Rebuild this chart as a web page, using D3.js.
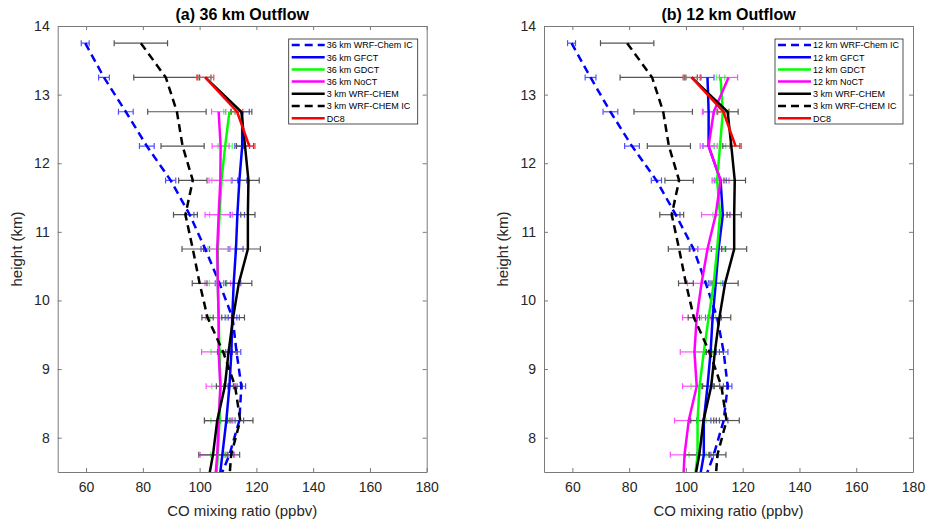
<!DOCTYPE html>
<html>
<head>
<meta charset="utf-8">
<script src="https://cdn.jsdelivr.net/npm/d3@7"></script>
<style>
  body { margin: 0; background: #fff; }
  text { font-family: "Liberation Sans", Arial, sans-serif; }
</style>
</head>
<body>
<svg id="chart" width="927" height="527"></svg>
<script>
// flight levels (km); the last one is below the axis and only makes the lines run to the edge
const heights = [13.75, 13.25, 12.75, 12.25, 11.75, 11.25, 10.75, 10.25, 9.75, 9.25, 8.75, 8.25, 7.75, 7.25];
const xTicks = [60, 80, 100, 120, 140, 160, 180];
const yTicks = [8, 9, 10, 11, 12, 13, 14];
const titles = ["(a) 36 km Outflow", "(b) 12 km Outflow"];

// shared series (same in both panels)
const wrf3 = [null, 102, 114.7, 116, 117.2, 117, 117, 113.8, 111.8, 110.2, 108.9, 106.2, 104.7, 102.5];
const wrf3Err = [0, 2, 3.7, 3, 3.8, 2.5, 4.4, 4.6, 4, 3, 3, 4.5, 5, 5];
const wrf3IC = [79.3, 88.1, 92, 94, 97.6, 95, 97.6, 100, 102.8, 108.3, 112.5, 114.3, 111.1, 110.2];
const wrf3ICErr = [9.4, 11.3, 10.3, 7.6, 5, 4.2, 3.8, 2.6, 2, 2, 2.5, 4.5, 3, 3];
const dc8 = [null, 102, 113.2, 117.5, null, null, null, null, null, null, null, null, null, null];
const dc8Err = [0, 3, 2, 2, 0, 0, 0, 0, 0, 0, 0, 0, 0, 0];

// panel (a) 36 km
const aIC = [59.7, 66.3, 74, 81.4, 89.8, 96.5, 102, 107, 111.6, 113, 114.7, 114, 110.5, 105.5];
const aICErr = [1.4, 1.9, 2.6, 2.6, 1.8, 1.5, 1.5, 1.5, 1.5, 1.5, 1.5, 1.5, 1.5, 1.5];
const aGFCT = [null, null, 115, 115, 114, 113.3, 112.8, 112, 111.5, 111.2, 110.5, 109.4, 108, 106.6];
const aGFCTErr = [0, 0, 2.5, 2.6, 2.6, 2.5, 2.5, 2.5, 2.5, 2, 2, 2, 2, 2];
const aGDCT = [null, null, 110.5, 109, 107.7, 107, 106.4, 106.4, 106.7, 107, 107.3, 107, 106.4, 105.6];
const aGDCTErr = [0, 0, 2, 2.5, 3.4, 3.5, 3.5, 3, 3, 3, 3, 3, 2.5, 2.5];
const aNoCT = [null, null, 106.7, 107.4, 107.3, 106.7, 106.2, 106.4, 106.7, 106.7, 107.3, 106.7, 106.2, 105.2];
const aNoCTErr = [0, 0, 2.5, 3, 4, 4.8, 4.5, 4.5, 4.5, 6, 5, 5, 6, 6];

// panel (b) 12 km
const bIC = [59.7, 66.4, 73.4, 81, 89.6, 96.4, 102.7, 107, 111, 113.3, 114.7, 113.3, 109.8, 105.4];
const bICErr = [1.4, 1.9, 2.6, 2.6, 1.8, 1.5, 1.5, 1.5, 1.5, 1.5, 1.5, 1.5, 1.5, 1.5];
const bGFCT = [null, 107.6, 108, 108, 112.2, 113, 111.5, 110.5, 109.4, 108.7, 107.6, 106.3, 106.3, 104.2];
const bGFCTErr = [0, 2.3, 2, 2, 2, 2.5, 2.5, 2.5, 2.5, 2, 2, 2.5, 2.5, 2];
const bGDCT = [null, 112.2, 113, 112, 111, 112, 111, 109.8, 108, 106.3, 104.8, 104.1, 104.1, 102.7];
const bGDCTErr = [0, 1.5, 2, 2, 1.5, 2.5, 2.5, 2.5, 2.5, 3, 3, 3, 3, 3];
const bNoCT = [null, 115, 109.8, 108, 112.2, 110.5, 107.6, 105.5, 103.8, 103, 103.8, 101, 99.5, 98.9];
const bNoCTErr = [0, 3.2, 4, 3, 3, 5, 5, 5, 5, 5, 5, 5, 5, 5];

const panels = [
  { left: 57.7, res: "36 km", ic: aIC, icErr: aICErr, gf: aGFCT, gfErr: aGFCTErr, gd: aGDCT, gdErr: aGDCTErr, no: aNoCT, noErr: aNoCTErr },
  { left: 544, res: "12 km", ic: bIC, icErr: bICErr, gf: bGFCT, gfErr: bGFCTErr, gd: bGDCT, gdErr: bGDCTErr, no: bNoCT, noErr: bNoCTErr }
];

const W = 369, plotTop = 26, plotBottom = 472;
const svg = d3.select("#chart");

panels.forEach((p, pi) => {
  const x = d3.scaleLinear().domain([50, 180]).range([p.left, p.left + W]);
  const y = d3.scaleLinear().domain([7.5, 14]).range([plotBottom, plotTop]);

  const series = [
    { name: p.res + " WRF-Chem IC", v: p.ic, e: p.icErr, color: "#0000ff", bar: "#5050ff", dash: "8,5" },
    { name: p.res + " GFCT", v: p.gf, e: p.gfErr, color: "#0000ff", bar: "#5050ff", dash: null },
    { name: p.res + " GDCT", v: p.gd, e: p.gdErr, color: "#00ff00", bar: "#50ff50", dash: null },
    { name: p.res + " NoCT", v: p.no, e: p.noErr, color: "#ff00ff", bar: "#ff50ff", dash: null },
    { name: "3 km WRF-CHEM", v: wrf3, e: wrf3Err, color: "#000000", bar: "#555555", dash: null },
    { name: "3 km WRF-CHEM IC", v: wrf3IC, e: wrf3ICErr, color: "#000000", bar: "#555555", dash: "8,5" },
    { name: "DC8", v: dc8, e: dc8Err, color: "#ff0000", bar: "#ff4040", dash: null }
  ];

  const clipId = "clip" + pi;
  svg.append("clipPath").attr("id", clipId)
    .append("rect").attr("x", p.left).attr("y", plotTop).attr("width", W).attr("height", plotBottom - plotTop);

  const plot = svg.append("g").attr("clip-path", `url(#${clipId})`);

  // error bars
  series.forEach(s => {
    const pts = heights.map((h, i) => ({ h, v: s.v[i], e: s.e[i] })).filter(d => d.v != null && d.e > 0);
    const g = plot.append("g").attr("stroke", s.bar).attr("stroke-width", 1.2).attr("fill", "none");
    pts.forEach(d => {
      const yy = y(d.h), x0 = x(d.v - d.e), x1 = x(d.v + d.e);
      g.append("line").attr("x1", x0).attr("x2", x1).attr("y1", yy).attr("y2", yy);
      g.append("line").attr("x1", x0).attr("x2", x0).attr("y1", yy - 3).attr("y2", yy + 3);
      g.append("line").attr("x1", x1).attr("x2", x1).attr("y1", yy - 3).attr("y2", yy + 3);
    });
  });

  // profile lines
  const line = d3.line()
    .defined(d => d.v != null)
    .x(d => x(d.v))
    .y(d => y(d.h));

  series.forEach(s => {
    const pts = heights.map((h, i) => ({ h, v: s.v[i] }));
    plot.append("path")
      .attr("d", line(pts))
      .attr("fill", "none")
      .attr("stroke", s.color)
      .attr("stroke-width", 2.5)
      .attr("stroke-dasharray", s.dash);
  });

  // axes, ticks pointing inward on all four sides
  const axisColor = "#7a7a7a";
  const styleAxis = g => {
    g.selectAll(".domain").attr("stroke", axisColor);
    g.selectAll(".tick line").attr("stroke", axisColor);
    g.selectAll(".tick text").attr("fill", "#262626").style("font-size", "14px")
      .style("font-family", "'Liberation Sans', Arial, sans-serif");
  };
  svg.append("g").attr("transform", `translate(0,${plotBottom})`)
    .call(d3.axisBottom(x).tickValues(xTicks).tickSize(-4).tickSizeOuter(0).tickPadding(10).tickFormat(d3.format("d")))
    .call(styleAxis);
  svg.append("g").attr("transform", `translate(0,${plotTop})`)
    .call(d3.axisTop(x).tickValues(xTicks).tickSize(-4).tickSizeOuter(0).tickFormat(""))
    .call(styleAxis);
  svg.append("g").attr("transform", `translate(${p.left},0)`)
    .call(d3.axisLeft(y).tickValues(yTicks).tickSize(-4).tickSizeOuter(0).tickPadding(8).tickFormat(d3.format("d")))
    .call(styleAxis);
  svg.append("g").attr("transform", `translate(${p.left + W},0)`)
    .call(d3.axisRight(y).tickValues(yTicks).tickSize(-4).tickSizeOuter(0).tickFormat(""))
    .call(styleAxis);

  // title and labels
  const cx = p.left + W / 2;
  svg.append("text").attr("x", cx).attr("y", 20).attr("text-anchor", "middle")
    .style("font-size", "16px").style("font-weight", "bold").attr("fill", "#000")
    .text(titles[pi]);
  svg.append("text").attr("x", cx).attr("y", 516).attr("text-anchor", "middle")
    .style("font-size", "15px").attr("fill", "#262626")
    .text("CO mixing ratio (ppbv)");
  svg.append("text")
    .attr("transform", `translate(${p.left - 36},${(plotTop + plotBottom) / 2}) rotate(-90)`)
    .attr("text-anchor", "middle")
    .style("font-size", "15px").attr("fill", "#262626")
    .text("height (km)");

  // legend
  const lx = p.left + 231, ly = 39, lw = pi === 0 ? 129 : 128, lh = 85;
  const leg = svg.append("g");
  leg.append("rect").attr("x", lx).attr("y", ly).attr("width", lw).attr("height", lh)
    .attr("fill", "#fff").attr("stroke", "#262626").attr("stroke-width", 0.8);
  series.forEach((s, i) => {
    const yy = ly + 6 + i * 12.2;
    leg.append("line").attr("x1", lx + 3).attr("x2", lx + 36).attr("y1", yy).attr("y2", yy)
      .attr("stroke", s.color).attr("stroke-width", 2.5).attr("stroke-dasharray", s.dash);
    leg.append("text").attr("x", lx + 38).attr("y", yy + 3.3)
      .style("font-size", "9px").attr("fill", "#000").text(s.name);
  });
});
</script>
</body>
</html>
